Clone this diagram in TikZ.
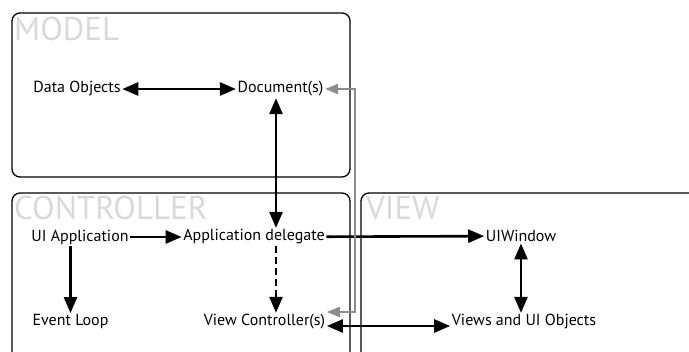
\documentclass[tikz,border=0pt]{standalone}
\usepackage{fontspec}
\setmainfont{PT Sans}
\usetikzlibrary{arrows.meta}
\definecolor{titlegray}{HTML}{D9D9D9}
\definecolor{linkgray}{HTML}{8C8C8C}

\tikzset{
    box/.style={line width=1.3pt, rounded corners=8pt},
    title/.style={anchor=base west, inner sep=0pt, text=titlegray, font=\fontsize{33}{33}\selectfont},
    item/.style={inner sep=1.5pt, font=\fontsize{16}{16}\selectfont},
    link/.style={line width=2.6pt, -{Triangle[length=16pt,width=13pt]}},
    bilink/.style={line width=2.6pt, {Triangle[length=16pt,width=13pt]}-{Triangle[length=16pt,width=13pt]}},
    graylink/.style={draw=linkgray, line width=2pt, {Triangle[length=13pt,width=10pt]}-{Triangle[length=13pt,width=10pt]}}
}

\begin{document}
\begin{tikzpicture}[x=1pt, y=-1pt]
    \useasboundingbox (0,0) rectangle (689,352);

    % Model box
    \draw[box] (12,13) rectangle (350,177);
    \node[title] (model) at (14,41) {MODEL};
    \node[item] (data) at (77,89) {Data Objects};
    \node[item] (doc) at (280.5,89) {Document(s)};

    % Controller box, open at the bottom
    \draw[box] (12,360) -- (12,193) -- (350,193) -- (350,360);
    \node[title] (ctrl) at (14,220) {CONTROLLER};
    \node[item] (uia) at (80,237) {UI Application};
    \node[item] (ad) at (254,237) {Application delegate};
    \node[item] (ev) at (70.5,322) {Event Loop};
    \node[item] (vc) at (264.5,322) {View Controller(s)};

    % View box, open at the bottom and right
    \draw[box] (361,360) -- (361,193) -- (700,193);
    \node[title] (view) at (366,220) {VIEW};
    \node[item] (uiw) at (521,236) {UIWindow};
    \node[item] (views) at (524,322) {Views and UI Objects};

    % Connectors
    \draw[bilink] (data) -- (doc);
    \draw[bilink] ([xshift=-4.5pt]doc.south) -- ([xshift=-4.5pt]doc.south |- ad.north);
    \draw[link] (uia) -- (ad);
    \draw[link] (ev.north |- uia.south) -- (ev.north);
    \draw[link, dashed, dash pattern=on 7pt off 4pt] ([xshift=-4.5pt]doc.south |- ad.south) -- ([xshift=-4.5pt]doc.south |- vc.north);
    \draw[link] (ad) -- (uiw);
    \draw[bilink] (uiw.south) -- (uiw.south |- views.north);
    \draw[bilink] ([yshift=-4pt]vc.east) -- ([yshift=-4pt]vc.east -| views.west);

    % Gray link between Document(s) and View Controller(s)
    \coordinate (rail) at (355,0);
    \draw[graylink] ([yshift=10pt]vc.east) -- ([yshift=10pt]vc.east -| rail) |- (doc.east);
\end{tikzpicture}
\end{document}
